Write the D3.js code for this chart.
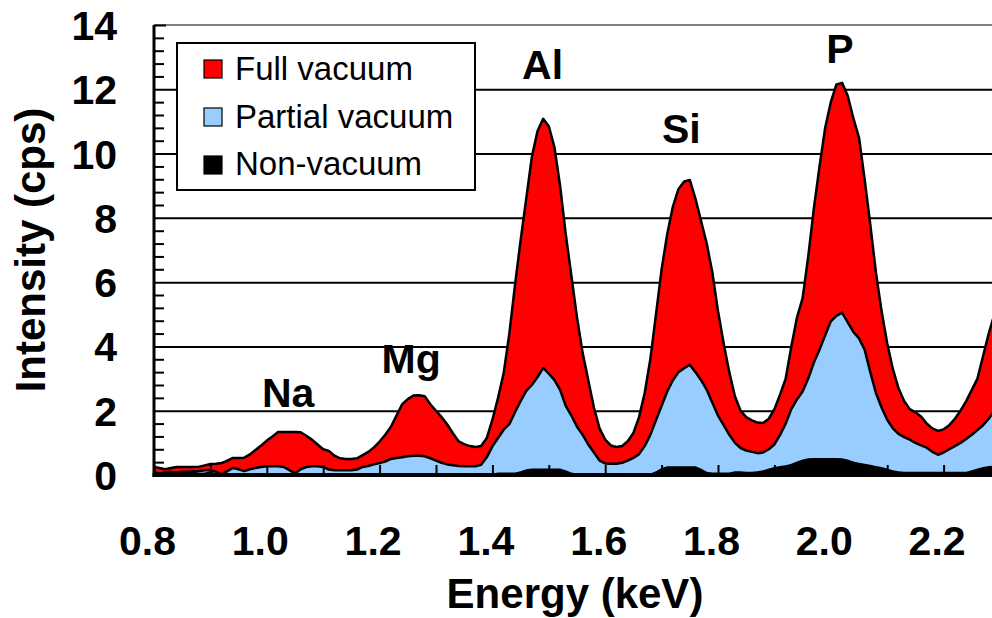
<!DOCTYPE html>
<html>
<head>
<meta charset="utf-8">
<script src="https://cdn.jsdelivr.net/npm/d3@7"></script>
<style>
  body { margin: 0; background: #fff; }
  text { font-family: "Liberation Sans", Arial, sans-serif; }
</style>
</head>
<body>
<div id="main"></div>
<script>
// energy grid (keV), 0.01 step
const energy = [
  0.80,0.81,0.82,0.83,0.84,0.85,0.86,0.87,0.88,0.89,
  0.90,0.91,0.92,0.93,0.94,0.95,0.96,0.97,0.98,0.99,
  1.00,1.01,1.02,1.03,1.04,1.05,1.06,1.07,1.08,1.09,
  1.10,1.11,1.12,1.13,1.14,1.15,1.16,1.17,1.18,1.19,
  1.20,1.21,1.22,1.23,1.24,1.25,1.26,1.27,1.28,1.29,
  1.30,1.31,1.32,1.33,1.34,1.35,1.36,1.37,1.38,1.39,
  1.40,1.41,1.42,1.43,1.44,1.45,1.46,1.47,1.48,1.49,
  1.50,1.51,1.52,1.53,1.54,1.55,1.56,1.57,1.58,1.59,
  1.60,1.61,1.62,1.63,1.64,1.65,1.66,1.67,1.68,1.69,
  1.70,1.71,1.72,1.73,1.74,1.75,1.76,1.77,1.78,1.79,
  1.80,1.81,1.82,1.83,1.84,1.85,1.86,1.87,1.88,1.89,
  1.90,1.91,1.92,1.93,1.94,1.95,1.96,1.97,1.98,1.99,
  2.00,2.01,2.02,2.03,2.04,2.05,2.06,2.07,2.08,2.09,
  2.10,2.11,2.12,2.13,2.14,2.15,2.16,2.17,2.18,2.19,
  2.20,2.21,2.22,2.23,2.24,2.25,2.26,2.27,2.28,2.29,
  2.30
];

// intensity (cps)
const fullVacuum = [
  0.25,0.22,0.18,0.22,0.25,0.25,0.25,0.25,0.26,0.30,
  0.34,0.35,0.37,0.45,0.53,0.53,0.54,0.64,0.78,0.92,
  1.07,1.20,1.34,1.34,1.34,1.34,1.33,1.22,1.10,0.95,
  0.80,0.75,0.60,0.52,0.50,0.50,0.52,0.62,0.72,0.86,
  1.04,1.25,1.50,1.85,2.20,2.36,2.47,2.48,2.45,2.20,
  2.00,1.80,1.57,1.30,1.05,0.96,0.90,0.87,0.90,1.15,
  1.72,2.40,3.17,4.40,5.90,7.30,8.60,9.90,10.70,11.08,
  10.85,10.20,9.00,7.50,6.20,4.90,3.80,2.95,2.10,1.45,
  1.10,0.92,0.87,0.90,1.05,1.31,1.80,2.55,3.60,5.00,
  6.40,7.50,8.35,8.90,9.13,9.18,8.60,7.90,7.20,6.30,
  5.10,4.10,3.20,2.45,2.00,1.80,1.70,1.63,1.62,1.75,
  2.05,2.50,3.00,4.00,4.90,5.50,6.80,8.30,9.60,10.80,
  11.60,12.15,12.20,11.80,11.10,10.50,9.20,7.80,6.30,5.10,
  4.10,3.30,2.70,2.30,2.05,1.95,1.82,1.60,1.45,1.37,
  1.42,1.55,1.75,2.00,2.30,2.65,3.00,3.70,4.40,5.00,
  5.60
];

const partialVacuum = [
  0.08,0.05,0.08,0.10,0.08,0.10,0.10,0.12,0.12,0.15,
  0.15,0.10,0.02,0.12,0.22,0.18,0.12,0.18,0.22,0.25,
  0.27,0.27,0.27,0.25,0.15,0.05,0.18,0.25,0.27,0.27,
  0.25,0.17,0.15,0.15,0.15,0.15,0.17,0.25,0.28,0.33,
  0.37,0.42,0.50,0.53,0.55,0.58,0.60,0.60,0.58,0.52,
  0.45,0.38,0.33,0.30,0.28,0.27,0.27,0.27,0.32,0.55,
  0.89,1.15,1.41,1.58,1.95,2.30,2.62,2.80,3.05,3.33,
  3.15,2.95,2.65,2.15,1.85,1.50,1.25,0.95,0.70,0.45,
  0.36,0.35,0.35,0.38,0.45,0.53,0.65,0.90,1.25,1.70,
  2.15,2.60,2.95,3.20,3.32,3.43,3.20,2.95,2.65,2.25,
  1.85,1.55,1.25,1.00,0.84,0.76,0.72,0.68,0.70,0.80,
  0.95,1.25,1.60,2.05,2.35,2.60,3.00,3.50,3.90,4.35,
  4.78,4.95,5.05,4.75,4.45,4.25,3.90,3.20,2.55,2.10,
  1.72,1.45,1.28,1.18,1.10,1.00,0.92,0.85,0.72,0.63,
  0.70,0.80,0.90,1.00,1.12,1.25,1.40,1.55,1.75,2.00,
  2.30
];

const nonVacuum = [
  0.12,0.08,0.05,0.10,0.05,0.05,0.10,0.12,0.06,0.08,
  0.12,0.05,0.05,0.05,0.05,0.05,0.05,0.05,0.05,0.05,
  0.05,0.05,0.05,0.05,0.05,0.05,0.05,0.05,0.05,0.05,
  0.05,0.05,0.05,0.05,0.05,0.05,0.05,0.05,0.05,0.05,
  0.05,0.05,0.05,0.05,0.05,0.05,0.05,0.05,0.05,0.05,
  0.05,0.05,0.05,0.05,0.05,0.05,0.05,0.05,0.05,0.05,
  0.05,0.08,0.08,0.08,0.08,0.12,0.18,0.20,0.20,0.20,
  0.20,0.20,0.20,0.15,0.08,0.05,0.05,0.05,0.05,0.05,
  0.05,0.05,0.05,0.05,0.05,0.05,0.05,0.05,0.05,0.12,
  0.22,0.27,0.27,0.27,0.27,0.27,0.27,0.20,0.10,0.08,
  0.08,0.08,0.08,0.12,0.12,0.10,0.10,0.12,0.15,0.20,
  0.25,0.28,0.30,0.35,0.42,0.48,0.52,0.53,0.53,0.53,
  0.53,0.53,0.52,0.48,0.42,0.38,0.35,0.32,0.28,0.25,
  0.20,0.15,0.12,0.10,0.10,0.10,0.10,0.10,0.10,0.10,
  0.10,0.10,0.10,0.10,0.10,0.15,0.20,0.25,0.28,0.30,
  0.30
];

const seriesNames = ["Full vacuum", "Partial vacuum", "Non-vacuum"];
const seriesColors = ["#ff0000", "#99ccff", "#000000"];

const xTicks = [0.8, 1.0, 1.2, 1.4, 1.6, 1.8, 2.0, 2.2];
const xMinorTicks = [0.8,0.9,1.0,1.1,1.2,1.3,1.4,1.5,1.6,1.7,1.8,1.9,2.0,2.1,2.2,2.3];
const yTicks = [0, 2, 4, 6, 8, 10, 12, 14];
const yMinorTicks = [0.4,0.8,1.2,1.6,2.4,2.8,3.2,3.6,4.4,4.8,5.2,5.6,6.4,6.8,7.2,7.6,
  8.4,8.8,9.2,9.6,10.4,10.8,11.2,11.6,12.4,12.8,13.2,13.6];

// element labels over the peaks
const peakNames = ["Na", "Mg", "Al", "Si", "P"];
const peakEnergy = [1.038, 1.256, 1.489, 1.735, 2.016];
const peakLabelLevel = [2.12, 3.17, 12.31, 10.33, 12.82];

const W = 992, H = 618;
const plotLeft = 154, plotTop = 25, plotBottom = 475;

const svg = d3.select("#main")
  .append("svg")
    .attr("width", W)
    .attr("height", H)
    .style("display", "block");

const x = d3.scaleLinear().domain([0.8, 2.4]).range([plotLeft, plotLeft + 1.6 * 564]);
const y = d3.scaleLinear().domain([0, 14]).range([plotBottom, plotTop]);

// gridlines behind everything
svg.append("g")
  .attr("transform", `translate(${plotLeft},0)`)
  .call(d3.axisLeft(y).tickValues([2, 4, 6, 8, 10, 12]).tickSize(-(W - plotLeft)).tickFormat(""))
  .call(g => g.select(".domain").remove())
  .call(g => g.selectAll("line").attr("stroke", "#000").attr("stroke-width", 2));

// plot border (top)
svg.append("line")
  .attr("x1", plotLeft).attr("x2", W)
  .attr("y1", y(14)).attr("y2", y(14))
  .attr("stroke", "#808080").attr("stroke-width", 2);

const series = [fullVacuum, partialVacuum, nonVacuum].map(vals =>
  vals.map((v, i) => ({e: energy[i], v: v})));

const area = d3.area()
  .x(d => x(d.e))
  .y0(y(0))
  .y1(d => y(d.v));

const line = d3.line()
  .x(d => x(d.e))
  .y(d => y(d.v));

series.forEach((s, i) => {
  svg.append("path")
    .datum(s)
    .attr("d", area)
    .attr("fill", seriesColors[i]);
  if (i < 2) {
    svg.append("path")
      .datum(s)
      .attr("d", line)
      .attr("fill", "none")
      .attr("stroke", "#000")
      .attr("stroke-width", 2.5)
      .attr("stroke-linejoin", "round");
  }
});

// x ticks pointing up into the plot
svg.append("g")
  .attr("transform", `translate(0,${plotBottom})`)
  .call(d3.axisTop(x).tickValues(xMinorTicks).tickSize(10).tickFormat(""))
  .call(g => g.select(".domain").remove())
  .call(g => g.selectAll("line").attr("stroke", "#000").attr("stroke-width", 2));

// y minor ticks pointing right
svg.append("g")
  .attr("transform", `translate(${plotLeft},0)`)
  .call(d3.axisRight(y).tickValues(yMinorTicks).tickSize(10).tickFormat(""))
  .call(g => g.select(".domain").remove())
  .call(g => g.selectAll("line").attr("stroke", "#000").attr("stroke-width", 2));

svg.append("g")
  .attr("transform", `translate(${plotLeft},0)`)
  .call(d3.axisRight(y).tickValues([14]).tickSize(12).tickFormat(""))
  .call(g => g.select(".domain").remove())
  .call(g => g.selectAll("line").attr("stroke", "#000").attr("stroke-width", 2));

// axis lines
svg.append("line")
  .attr("x1", plotLeft).attr("x2", plotLeft)
  .attr("y1", plotTop).attr("y2", plotBottom + 2)
  .attr("stroke", "#000").attr("stroke-width", 3);
svg.append("line")
  .attr("x1", plotLeft - 1.5).attr("x2", W)
  .attr("y1", plotBottom).attr("y2", plotBottom)
  .attr("stroke", "#000").attr("stroke-width", 4);

// y labels
svg.append("g")
  .attr("transform", `translate(${plotLeft},0)`)
  .call(d3.axisLeft(y).tickValues(yTicks).tickSize(0).tickPadding(37).tickFormat(d3.format("d")))
  .call(g => g.select(".domain").remove())
  .call(g => g.selectAll("text")
    .attr("dy", null)
    .attr("y", 14.5)
    .attr("fill", "#000")
    .style("font-family", "'Liberation Sans', Arial, sans-serif")
    .style("font-size", "41px")
    .style("font-weight", "bold"));

// x labels
svg.append("g")
  .attr("transform", `translate(0,${plotBottom})`)
  .call(d3.axisBottom(x).tickValues(xTicks).tickSize(0).tickFormat(d3.format(".1f")))
  .call(g => g.select(".domain").remove())
  .call(g => g.selectAll("text")
    .attr("dy", null)
    .attr("y", 80)
    .attr("x", -7)
    .attr("fill", "#000")
    .style("font-family", "'Liberation Sans', Arial, sans-serif")
    .style("font-size", "41px")
    .style("font-weight", "bold"));

// axis titles
svg.append("text")
  .attr("x", 575).attr("y", 608)
  .attr("text-anchor", "middle")
  .style("font-size", "42px").style("font-weight", "bold")
  .text("Energy (keV)");

svg.append("text")
  .attr("transform", `translate(45,${(plotTop + plotBottom) / 2}) rotate(-90)`)
  .attr("text-anchor", "middle")
  .style("font-size", "42px").style("font-weight", "bold")
  .text("Intensity (cps)");

// peak labels
svg.selectAll(".peak")
  .data(peakNames)
  .join("text")
    .attr("class", "peak")
    .attr("x", (d, i) => x(peakEnergy[i]))
    .attr("y", (d, i) => y(peakLabelLevel[i]))
    .attr("text-anchor", "middle")
    .style("font-size", "41px").style("font-weight", "bold")
    .text(d => d);

// legend
const legend = svg.append("g");
legend.append("rect")
  .attr("x", 177).attr("y", 43)
  .attr("width", 298).attr("height", 147)
  .attr("fill", "#fff").attr("stroke", "#000").attr("stroke-width", 2);

seriesNames.forEach((name, i) => {
  legend.append("rect")
    .attr("x", 204).attr("y", 60 + i * 48)
    .attr("width", 18).attr("height", 18)
    .attr("fill", seriesColors[i])
    .attr("stroke", "#000").attr("stroke-width", 1.2);
  legend.append("text")
    .attr("x", 235).attr("y", 80 + i * 47.5)
    .style("font-size", "33px")
    .text(name);
});
</script>
</body>
</html>
